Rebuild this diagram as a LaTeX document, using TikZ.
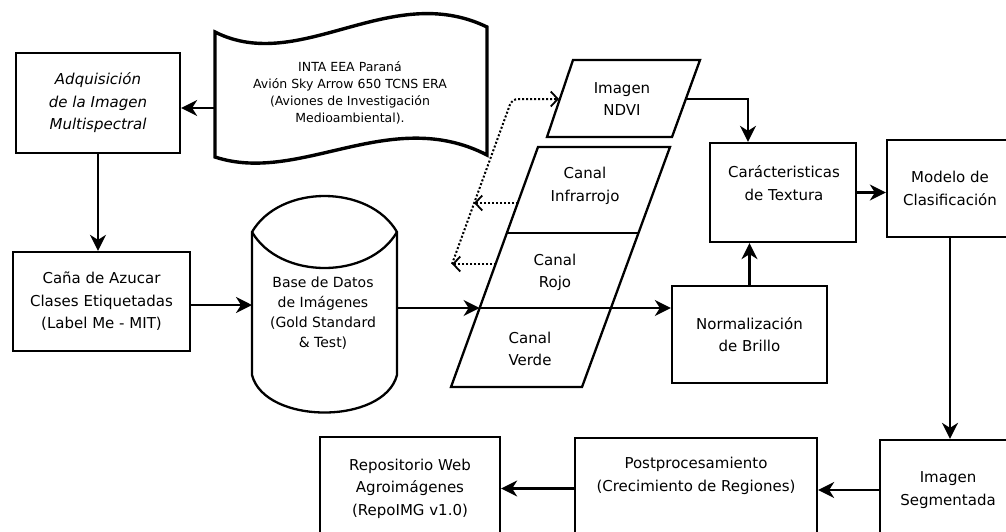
\documentclass[tikz,border=0pt]{standalone}
\usepackage{fontspec}
\setmainfont{DejaVu Sans}
\usetikzlibrary{arrows.meta}
\newcommand\fMainTxt{\fontsize{15}{22.5}\selectfont}
\newcommand\fDocTxt{\fontsize{12.5}{17}\selectfont}
\newcommand\fCylTxt{\fontsize{14}{20}\selectfont}
\begin{document}
\begin{tikzpicture}[x=1pt,y=-1pt,
  box/.style={draw, line width=2.3pt, inner sep=0pt, align=center, font=\fMainTxt},
  txt/.style={align=center, inner sep=0pt, font=\fMainTxt},
  shapeline/.style={line width=2.3pt, line join=miter},
  arr/.style={line width=2.3pt, -{Stealth[length=16pt,width=16pt,inset=5pt]}},
  dotarr/.style={line width=2pt, dash pattern=on 2pt off 2pt, -{Straight Barb[length=7pt,width=15pt,line width=1.8pt]}}]
\useasboundingbox (0,0) rectangle (1006,531);
\fill[white] (0,0) rectangle (1006,531);
\clip (0,0) rectangle (1006,531);

% boxes
\node[box, minimum width=164pt, minimum height=100pt, font=\fMainTxt\itshape] (adq) at (98,103) {Adquisición\\de la Imagen\\Multispectral};
\node[box, minimum width=177pt, minimum height=99pt] (cana) at (101.5,301.5) {Caña de Azucar\\Clases Etiquetadas\\(Label Me - MIT)};
\node[box, minimum width=146pt, minimum height=99pt] (car) at (783,192.5) {};
\node[txt] (cartext) at (784,183) {Carácteristicas\\de Textura};
\node[box, minimum width=126pt, minimum height=97pt] (mod) at (950,188.5) {Modelo de\\Clasificación};
\node[box, minimum width=155pt, minimum height=97pt] (norm) at (749.5,334.5) {Normalización\\de Brillo};
\node[box, minimum width=136pt, minimum height=100pt] (seg) at (948,490) {Imagen\\Segmentada};
\node[box, minimum width=242pt, minimum height=102pt] (post) at (696,489) {};
\node[txt] (posttext) at (696,476) {Postprocesamiento\\(Crecimiento de Regiones)};
\node[box, minimum width=180pt, minimum height=103pt] (repo) at (410,488.5) {Repositorio Web\\Agroimágenes\\(RepoIMG v1.0)};

% document shape
\draw[line width=3.4pt, line join=miter] (215,32) .. controls (300,75) and (390,-20) .. (487,27) -- (487,155) .. controls (390,105) and (300,185) .. (215,157) -- cycle;
\node[txt, font=\fDocTxt] (doc) at (350,93) {INTA EEA Paraná\\Avión Sky Arrow 650 TCNS ERA\\(Aviones de Investigación\\Medioambiental).};
\coordinate (docL) at (215,108);

% cylinder
\draw[shapeline] (252,232) .. controls (280,184) and (369,184) .. (397,232) -- (397,375) .. controls (384,425) and (265,425) .. (252,375) -- cycle;
\draw[shapeline] (252,232) .. controls (280,280) and (369,280) .. (397,232);
\node[txt, font=\fCylTxt] (cyl) at (323,313) {Base de Datos\\de Imágenes\\(Gold Standard\\\& Test)};
\coordinate (cylW) at (252,305);
\coordinate (cylE) at (397,308);

% NDVI parallelogram
\draw[shapeline] (573,60) -- (700,60) -- (672,137) -- (547,137) -- cycle;
\node[txt] (ndvi) at (622,99) {Imagen\\NDVI};
\coordinate (ndviR) at (685.8,99);
\coordinate (ndviL) at (559,99);

% channel stack
\draw[shapeline] (538,147) -- (670,147) -- (582,387) -- (451,387) -- cycle;
\draw[shapeline] (506.8,233) -- (638.5,233);
\node[txt] (infr) at (585,186) {Canal\\Infrarrojo};
\node[txt] (rojo) at (555,272.5) {Canal\\Rojo};
\node[txt] (verde) at (530,349) {Canal\\Verde};
\coordinate (stkIn) at (479.6,308);
\coordinate (infL) at (518,203);
\coordinate (rojL) at (496,264);
\coordinate (busInf) at (474,203);
\coordinate (busBot) at (452,264);
\coordinate (busTop) at (512,99);

% connectors
\draw[arr] (docL) -- (docL -| adq.east);
\draw[arr] (adq.south) -- (adq.south |- cana.north);
\draw[arr] (cana.east |- cylW) -- (cylW);
\draw[arr] (cylE) -- (stkIn);
\draw[arr] (stkIn) -- (stkIn -| norm.west);
\draw[arr] (norm.north) -- (norm.north |- car.south);
\draw[arr] (ndviR) -| ([xshift=-35pt]car.north);
\draw[arr] (car.east) -- (car.east -| mod.west);
\draw[arr] (mod.south) -- (mod.south |- seg.north);
\draw[arr] (seg.west) -- (seg.west -| post.east);
\draw[arr] (post.west |- repo.east) -- (repo.east);

% dotted
\draw[dotarr, rounded corners=6pt] (busBot) -- (busTop) -- (ndviL);
\draw[dotarr] (infL) -- (busInf);
\draw[dotarr] (rojL) -- (busBot);
\end{tikzpicture}
\end{document}
